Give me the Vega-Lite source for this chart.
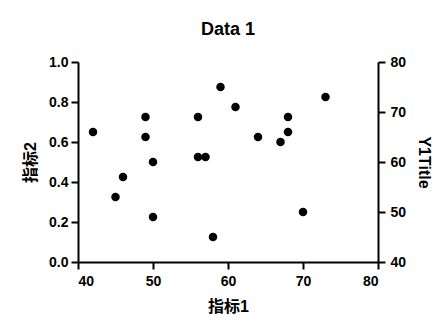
{
  "$schema": "https://vega.github.io/schema/vega-lite/v6.json",
  "width": 300,
  "height": 200,
  "autosize": "none",
  "padding": {"left": 78, "top": 62, "right": 68, "bottom": 65},
  "background": "white",
  "title": {"text": "Data 1", "fontSize": 18, "font": "Liberation Sans", "fontWeight": "bold", "color": "black", "offset": 16},
  "config": {
    "view": {"stroke": null},
    "axis": {
      "grid": false,
      "domainColor": "black",
      "domainWidth": 2,
      "tickColor": "black",
      "tickWidth": 2,
      "tickSize": 7,
      "labelFont": "Liberation Sans",
      "labelFontSize": 14,
      "labelFontWeight": "bold",
      "labelColor": "black",
      "labelPadding": 3,
      "titleFont": "Liberation Sans, Noto Sans CJK SC",
      "titleFontSize": 16,
      "titleFontWeight": "bold",
      "titleColor": "black"
    }
  },
  "data": {"values": [
    {"x": 42, "y1": 66}, {"x": 45, "y1": 53}, {"x": 46, "y1": 57}, {"x": 49, "y1": 69},
    {"x": 49, "y1": 65}, {"x": 50, "y1": 60}, {"x": 50, "y1": 49}, {"x": 56, "y1": 69},
    {"x": 56, "y1": 61}, {"x": 57, "y1": 61}, {"x": 58, "y1": 45}, {"x": 59, "y1": 75},
    {"x": 61, "y1": 71}, {"x": 64, "y1": 65}, {"x": 67, "y1": 64}, {"x": 68, "y1": 69},
    {"x": 68, "y1": 66}, {"x": 70, "y1": 50}, {"x": 73, "y1": 73}
  ]},
  "layer": [
    {
      "mark": {"type": "point", "opacity": 0},
      "encoding": {
        "x": {"field": "x", "type": "quantitative", "scale": {"domain": [40, 80]},
              "axis": {"title": "指标1", "values": [40, 50, 60, 70, 80], "labelPadding": 5, "titlePadding": 10}},
        "y": {"datum": 0, "type": "quantitative", "scale": {"domain": [0, 1]},
              "axis": {"orient": "left", "title": "指标2", "values": [0, 0.2, 0.4, 0.6, 0.8, 1.0], "format": ".1f", "titlePadding": 10}}
      }
    },
    {
      "mark": {"type": "circle", "size": 72, "color": "black", "opacity": 1},
      "encoding": {
        "x": {"field": "x", "type": "quantitative", "scale": {"domain": [40, 80]}},
        "y": {"field": "y1", "type": "quantitative", "scale": {"domain": [40, 80]},
              "axis": {"orient": "right", "title": "Y1Title", "values": [40, 50, 60, 70, 80], "labelPadding": 5, "titlePadding": 10}}
      }
    }
  ],
  "resolve": {"scale": {"y": "independent"}, "axis": {"y": "independent"}}
}
